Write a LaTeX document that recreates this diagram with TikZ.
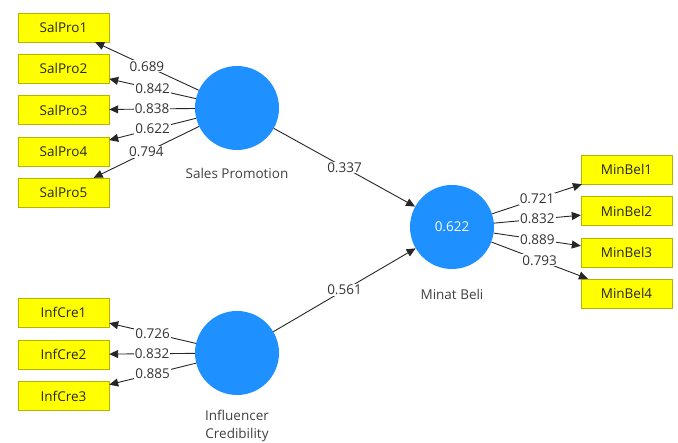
\documentclass[tikz,border=0pt]{standalone}
\usepackage{fontspec}
\setmainfont{Open Sans}
\usetikzlibrary{arrows.meta}
\definecolor{lvblue}{HTML}{1E90FF}
\definecolor{mvyellow}{HTML}{FFFF00}
\definecolor{mvborder}{HTML}{B4B400}
\tikzset{
  lv/.style={circle, fill=lvblue, minimum size=84pt, inner sep=0pt, text=white},
  mv/.style={rectangle, draw=mvborder, fill=mvyellow, minimum width=91pt, minimum height=29pt, inner sep=0pt, text=black!85},
  ld/.style={fill=white, inner sep=1pt, midway, text=black!80},
  conn/.style={draw=black!85, line width=0.9pt, -{Triangle[length=9pt,width=8pt]}},
}

\begin{document}
\begin{tikzpicture}[x=1pt, y=-1pt, font=\fontsize{13.5}{18}\selectfont]
        \useasboundingbox (0,0) rectangle (678,443);
        \node[lv] (SP) at (237,108) {};
        \node[lv] (MB) at (452,227) {0.622};
        \node[lv] (IC) at (237,353) {};
        \node[text=black!75] (SPl) at (237,173) {Sales Promotion};
        \node[text=black!75] (MBl) at (452,294) {Minat Beli};
        \node[text=black!75, align=center] (ICl) at (237,426) {Influencer\\Credibility};
        \node[mv] (SalPro1) at (63.5,27.5) {SalPro1};
        \node[mv] (SalPro2) at (63.5,68.5) {SalPro2};
        \node[mv] (SalPro3) at (63.5,110) {SalPro3};
        \node[mv] (SalPro4) at (63.5,151.5) {SalPro4};
        \node[mv] (SalPro5) at (63.5,192.5) {SalPro5};
        \node[mv] (InfCre1) at (63.5,312.5) {InfCre1};
        \node[mv] (InfCre2) at (63.5,354.5) {InfCre2};
        \node[mv] (InfCre3) at (63.5,396) {InfCre3};
        \node[mv] (MinBel1) at (626.5,169.5) {MinBel1};
        \node[mv] (MinBel2) at (626.5,211) {MinBel2};
        \node[mv] (MinBel3) at (626.5,252.5) {MinBel3};
        \node[mv] (MinBel4) at (626.5,293.5) {MinBel4};
        \draw[conn] (SP) -- node[ld] {0.689} (SalPro1);
        \draw[conn] (SP) -- node[ld] {0.842} (SalPro2);
        \draw[conn] (SP) -- node[ld] {0.838} (SalPro3);
        \draw[conn] (SP) -- node[ld] {0.622} (SalPro4);
        \draw[conn] (SP) -- node[ld] {0.794} (SalPro5);
        \draw[conn] (IC) -- node[ld] {0.726} (InfCre1);
        \draw[conn] (IC) -- node[ld] {0.832} (InfCre2);
        \draw[conn] (IC) -- node[ld] {0.885} (InfCre3);
        \draw[conn] (MB) -- node[ld] {0.721} (MinBel1);
        \draw[conn] (MB) -- node[ld] {0.832} (MinBel2);
        \draw[conn] (MB) -- node[ld] {0.889} (MinBel3);
        \draw[conn] (MB) -- node[ld] {0.793} (MinBel4);
        \draw[conn] (SP) -- node[ld] {0.337} (MB);
        \draw[conn] (IC) -- node[ld] {0.561} (MB);
\end{tikzpicture}
\end{document}
